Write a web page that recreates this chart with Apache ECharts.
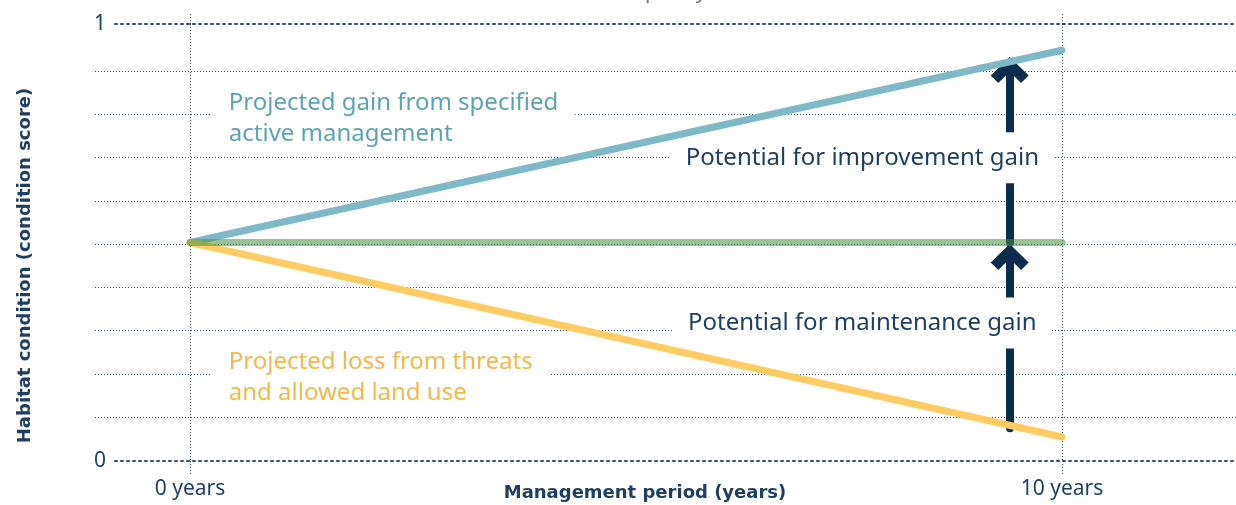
<!DOCTYPE html>
<html>
<head>
<meta charset="utf-8">
<script src="https://cdn.jsdelivr.net/npm/echarts@6/dist/echarts.min.js"></script>
<style>
  html, body { margin: 0; padding: 0; background: #fff; }
  #chart { width: 1236px; height: 505px; }
</style>
</head>
<body>
<div id="chart"></div>
<script>
// x positions (years)
const years = [0, 10];
// condition score at start and end of the period
const activeGain = [0.5, 0.94];
const baseline = [0.5, 0.5];
const threatLoss = [0.5, 0.055];

// arrows (x in years, y from -> to)
const arrowX = 9.4;
const improveArrow = [0.5, 0.895];
const maintainArrow = [0.075, 0.467];

// annotation texts
const noteText = [
    'Projected gain from specified\nactive management',
    'Projected loss from threats\nand allowed land use',
    'Potential for improvement gain',
    'Potential for maintenance gain'
];
const noteX = [0.25, 0.25, 7.71, 7.71];
const noteY = [0.783, 0.19, 0.694, 0.316];
const noteColor = ['#5ea2b3', '#f2b84b', '#1d3f63', '#1d3f63'];

const navy = '#1d3f63';
const gridColor = '#2c4e74';
const font = '"Noto Sans", "Open Sans", sans-serif';
const boldFont = '"DejaVu Sans", "Noto Sans", sans-serif';

function pairs(xs, ys) {
    return xs.map((x, i) => [x, ys[i]]);
}

let myChart = echarts.init(document.getElementById('chart'));

let option = {
    animation: false,
    textStyle: { fontFamily: font },
    graphic: [{
        type: 'text',
        left: 637,
        top: -19,
        style: { text: 'quality of the', fill: '#777', font: '22px ' + font }
    }],
    grid: [
        { left: 190, right: 174, top: 24, bottom: 44, outerBoundsMode: 'none', containLabel: false },
        { left: 95, right: 0, top: 71, bottom: 88, outerBoundsMode: 'none', containLabel: false },
        { left: 115, right: 0, top: 24, bottom: 44, outerBoundsMode: 'none', containLabel: false }
    ],
    xAxis: [{
        type: 'value', gridIndex: 0, min: 0, max: 10, interval: 10,
        axisLine: { show: false },
        axisTick: { show: true, length: 14, lineStyle: { color: gridColor, width: 1, type: [1, 2] } },
        splitLine: { show: true, lineStyle: { color: gridColor, width: 1, type: [1, 2] } },
        axisLabel: { color: navy, fontSize: 21, margin: 18, formatter: v => v + ' years' },
        name: 'Management period (years)',
        nameLocation: 'middle',
        nameGap: 23,
        nameMoveOverlap: false,
        nameTextStyle: {
            color: navy, fontSize: 18, fontWeight: 'bold', fontFamily: boldFont,
            verticalAlign: 'top', padding: [0, 0, 0, 38]
        }
    }, {
        type: 'value', gridIndex: 0, position: 'top', min: 0, max: 10, interval: 10,
        axisLine: { show: false },
        axisTick: { show: true, length: 12, lineStyle: { color: gridColor, width: 1, type: [1, 2] } },
        axisLabel: { show: false },
        splitLine: { show: false }
    }, {
        type: 'value', gridIndex: 1, min: 0, max: 1, show: false
    }, {
        type: 'value', gridIndex: 2, min: 0, max: 1, show: false
    }],
    yAxis: [{
        type: 'value', gridIndex: 0, min: 0, max: 1, interval: 1,
        axisLine: { show: false },
        axisTick: { show: false },
        axisLabel: { show: false },
        splitLine: { show: false },
        name: 'Habitat condition (condition score)',
        nameLocation: 'middle',
        nameGap: 156,
        nameMoveOverlap: false,
        nameTextStyle: {
            color: navy, fontSize: 18, fontWeight: 'bold', fontFamily: boldFont,
            padding: [0, 46, 0, 0]
        }
    }, {
        type: 'value', gridIndex: 1, min: 0.1, max: 0.9, interval: 0.1,
        axisLine: { show: false },
        axisTick: { show: false },
        axisLabel: { show: false },
        splitLine: { show: true, lineStyle: { color: gridColor, width: 1, type: [1, 2] } }
    }, {
        type: 'value', gridIndex: 2, min: 0, max: 1, interval: 1,
        axisLine: { show: false },
        axisTick: { show: false },
        axisLabel: { color: navy, fontSize: 21, margin: 9 },
        splitLine: { show: true, lineStyle: { color: gridColor, width: 2, type: [2, 4], cap: 'round' } }
    }],
    series: [{
        type: 'line', name: 'gain', xAxisIndex: 0, yAxisIndex: 0,
        data: pairs(years, activeGain), symbol: 'none', z: 12,
        lineStyle: { color: '#7fb9c8', width: 7, cap: 'round' }
    }, {
        type: 'line', name: 'loss', xAxisIndex: 0, yAxisIndex: 0,
        data: pairs(years, threatLoss), symbol: 'none', z: 12,
        lineStyle: { color: '#ffcb63', width: 7, cap: 'round' }
    }, {
        type: 'line', name: 'baseline', xAxisIndex: 0, yAxisIndex: 0,
        data: pairs(years, baseline), symbol: 'none', z: 12,
        lineStyle: { color: 'rgba(70,145,60,0.55)', width: 7, cap: 'round' }
    }, {
        // arrows
        type: 'line', name: 'arrows', xAxisIndex: 0, yAxisIndex: 0, data: [], z: 4,
        markLine: {
            silent: true,
            symbol: ['none', 'path://M10,0 L20,10 L16,14 L10,8 L4,14 L0,10 Z'],
            symbolSize: [38, 26],
            label: { show: false },
            lineStyle: { color: '#0e2c4d', width: 8, type: 'solid', cap: 'round', opacity: 1 },
            data: [
                [{ coord: [arrowX, improveArrow[0]] }, { coord: [arrowX, improveArrow[1]] }],
                [{ coord: [arrowX, maintainArrow[0]] }, { coord: [arrowX, maintainArrow[1]] }]
            ]
        }
    }, {
        // annotation boxes
        type: 'scatter', name: 'notes', xAxisIndex: 0, yAxisIndex: 0, z: 10,
        symbolSize: 0,
        itemStyle: { opacity: 1 },
        emphasis: { disabled: true },
        data: noteText.map((t, i) => ({
            value: [noteX[i], noteY[i]],
            label: {
                show: true,
                position: 'inside',
                align: i < 2 ? 'left' : 'center',
                verticalAlign: 'middle',
                formatter: t,
                color: noteColor[i],
                fontSize: 24,
                lineHeight: 31,
                fontFamily: font,
                backgroundColor: '#fff',
                padding: i < 2 ? [4, 17] : [10, 15]
            }
        }))
    }]
};

myChart.setOption(option);
window.addEventListener('resize', function () {
    myChart.resize();
});
</script>
</body>
</html>
